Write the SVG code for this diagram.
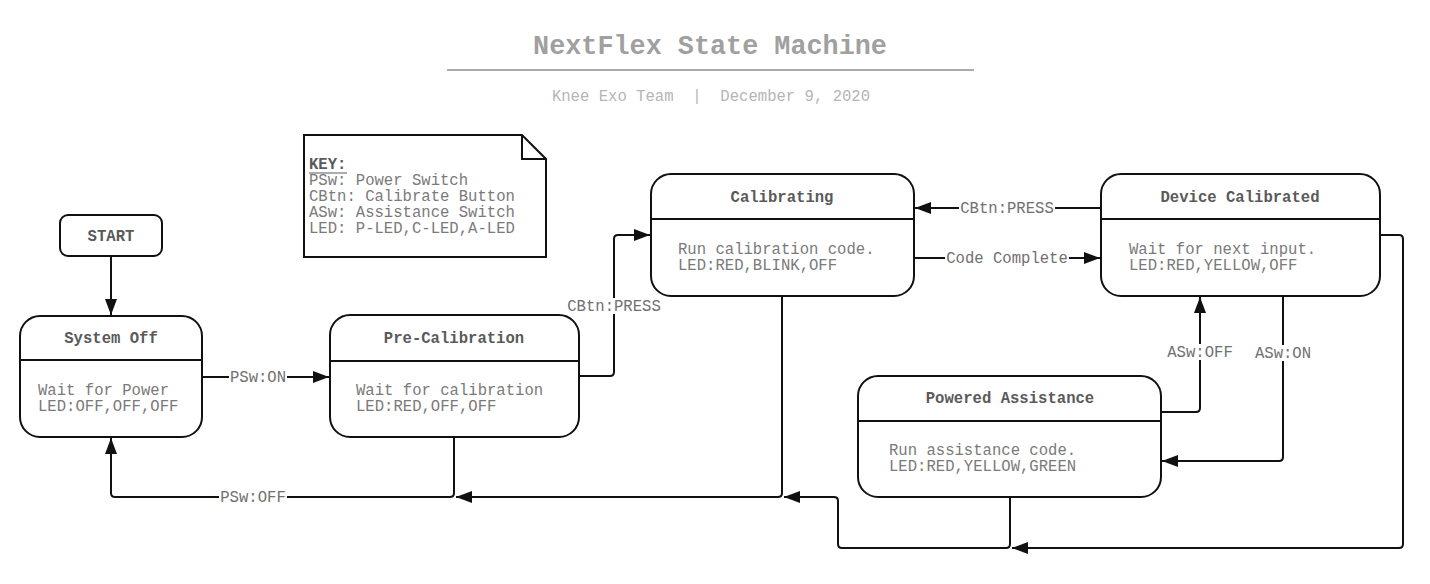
<svg xmlns="http://www.w3.org/2000/svg" width="1430" height="584" viewBox="0 0 1430 584">
<style>
text{font-family:"Liberation Mono","DejaVu Sans Mono",monospace;font-size:15.6px}
.ttl{font-weight:bold;fill:#5a5a5a;text-anchor:middle}
.body{fill:#7a7a7a}
.lbl{fill:#707070;text-anchor:middle}
.box{fill:#fff;stroke:#111;stroke-width:2}
.div{stroke:#111;stroke-width:2}
.con{fill:none;stroke:#111;stroke-width:2}
.bg{fill:#fff}
</style>
<defs>
<marker id="ah" markerUnits="userSpaceOnUse" markerWidth="17" markerHeight="13" refX="16" refY="6" orient="auto" viewBox="0 0 17 13">
<path d="M0,0 L16,6 L0,12 Z" fill="#111"/>
</marker>
</defs>
<rect width="1430" height="584" fill="#fff"/>
<g id="header">
<text x="710" y="54" style="font-size:26.8px;font-weight:bold;fill:#a0a0a0;text-anchor:middle">NextFlex State Machine</text>
<line x1="447" y1="70" x2="974" y2="70" stroke="#aaa" stroke-width="2"/>
<text x="711" y="101" xml:space="preserve" style="fill:#b5b5b5;text-anchor:middle;white-space:pre">Knee Exo Team  |  December 9, 2020</text>
</g>
<g id="key">
<path class="box" d="M304,135 H522 L546,159 V257 H304 Z"/>
<path class="con" d="M522,135 V159 H546"/>
<text x="309" y="169" style="font-weight:bold;fill:#5a5a5a">KEY:</text>
<line x1="309" y1="173" x2="347" y2="173" stroke="#5a5a5a" stroke-width="1.2"/>
<text class="body" x="309" y="185">PSw: Power Switch</text>
<text class="body" x="309" y="201">CBtn: Calibrate Button</text>
<text class="body" x="309" y="217">ASw: Assistance Switch</text>
<text class="body" x="309" y="233">LED: P-LED,C-LED,A-LED</text>
</g>
<g id="connectors">
<path class="con" d="M111,256 V315" marker-end="url(#ah)"/>
<path class="con" d="M202,377 H329" marker-end="url(#ah)"/>
<path class="con" d="M579,376 H610 Q614,376 614,372 V239 Q614,235 618,235 H650" marker-end="url(#ah)"/>
<path class="con" d="M914,258 H1100" marker-end="url(#ah)"/>
<path class="con" d="M1101,208 H915" marker-end="url(#ah)"/>
<path class="con" d="M1283,296 V457 Q1283,461 1279,461 H1162" marker-end="url(#ah)"/>
<path class="con" d="M1161,412 H1196 Q1200,412 1200,408 V297" marker-end="url(#ah)"/>
<path class="con" d="M454,437 V493 Q454,497 450,497 H115 Q111,497 111,493 V438" marker-end="url(#ah)"/>
<path class="con" d="M782,296 V493 Q782,497 778,497 H456" marker-end="url(#ah)"/>
<path class="con" d="M1010,497 V544 Q1010,548 1006,548 H842 Q838,548 838,544 V501 Q838,497 834,497 H784" marker-end="url(#ah)"/>
<path class="con" d="M1380,235 H1399 Q1403,235 1403,239 V544 Q1403,548 1399,548 H1012" marker-end="url(#ah)"/>
<rect class="bg" x="229" y="369" width="58" height="16"/>
<text class="lbl" x="258" y="382">PSw:ON</text>
<rect class="bg" x="566" y="298" width="96" height="16"/>
<text class="lbl" x="614" y="311">CBtn:PRESS</text>
<rect class="bg" x="945" y="250" width="124" height="16"/>
<text class="lbl" x="1007" y="263">Code Complete</text>
<rect class="bg" x="959" y="200" width="96" height="16"/>
<text class="lbl" x="1007" y="213">CBtn:PRESS</text>
<rect class="bg" x="1166" y="344" width="68" height="16"/>
<text class="lbl" x="1200" y="357">ASw:OFF</text>
<rect class="bg" x="1254" y="345" width="58" height="16"/>
<text class="lbl" x="1283" y="358">ASw:ON</text>
<rect class="bg" x="219" y="489" width="68" height="16"/>
<text class="lbl" x="253" y="502">PSw:OFF</text>
</g>
<g id="start">
<rect class="box" x="60" y="215" width="102" height="41" rx="8"/>
<text class="ttl" x="111" y="241">START</text>
</g>
<g id="system-off">
<rect class="box" x="20" y="316" width="182" height="121" rx="20"/>
<line class="div" x1="20" y1="360" x2="202" y2="360"/>
<text class="ttl" x="111" y="343">System Off</text>
<text class="body" x="38" y="395">Wait for Power</text>
<text class="body" x="38" y="411">LED:OFF,OFF,OFF</text>
</g>
<g id="pre-calibration">
<rect class="box" x="330" y="315" width="249" height="122" rx="20"/>
<line class="div" x1="330" y1="361" x2="579" y2="361"/>
<text class="ttl" x="454" y="343">Pre-Calibration</text>
<text class="body" x="356" y="395">Wait for calibration</text>
<text class="body" x="356" y="411">LED:RED,OFF,OFF</text>
</g>
<g id="calibrating">
<rect class="box" x="651" y="174" width="263" height="122" rx="20"/>
<line class="div" x1="651" y1="219" x2="914" y2="219"/>
<text class="ttl" x="782" y="202">Calibrating</text>
<text class="body" x="678" y="254">Run calibration code.</text>
<text class="body" x="678" y="270">LED:RED,BLINK,OFF</text>
</g>
<g id="device-calibrated">
<rect class="box" x="1101" y="174" width="279" height="122" rx="20"/>
<line class="div" x1="1101" y1="219" x2="1380" y2="219"/>
<text class="ttl" x="1240" y="202">Device Calibrated</text>
<text class="body" x="1129" y="254">Wait for next input.</text>
<text class="body" x="1129" y="270">LED:RED,YELLOW,OFF</text>
</g>
<g id="powered-assistance">
<rect class="box" x="858" y="376" width="303" height="121" rx="20"/>
<line class="div" x1="858" y1="421" x2="1161" y2="421"/>
<text class="ttl" x="1010" y="403">Powered Assistance</text>
<text class="body" x="889" y="455">Run assistance code.</text>
<text class="body" x="889" y="471">LED:RED,YELLOW,GREEN</text>
</g>
</svg>
